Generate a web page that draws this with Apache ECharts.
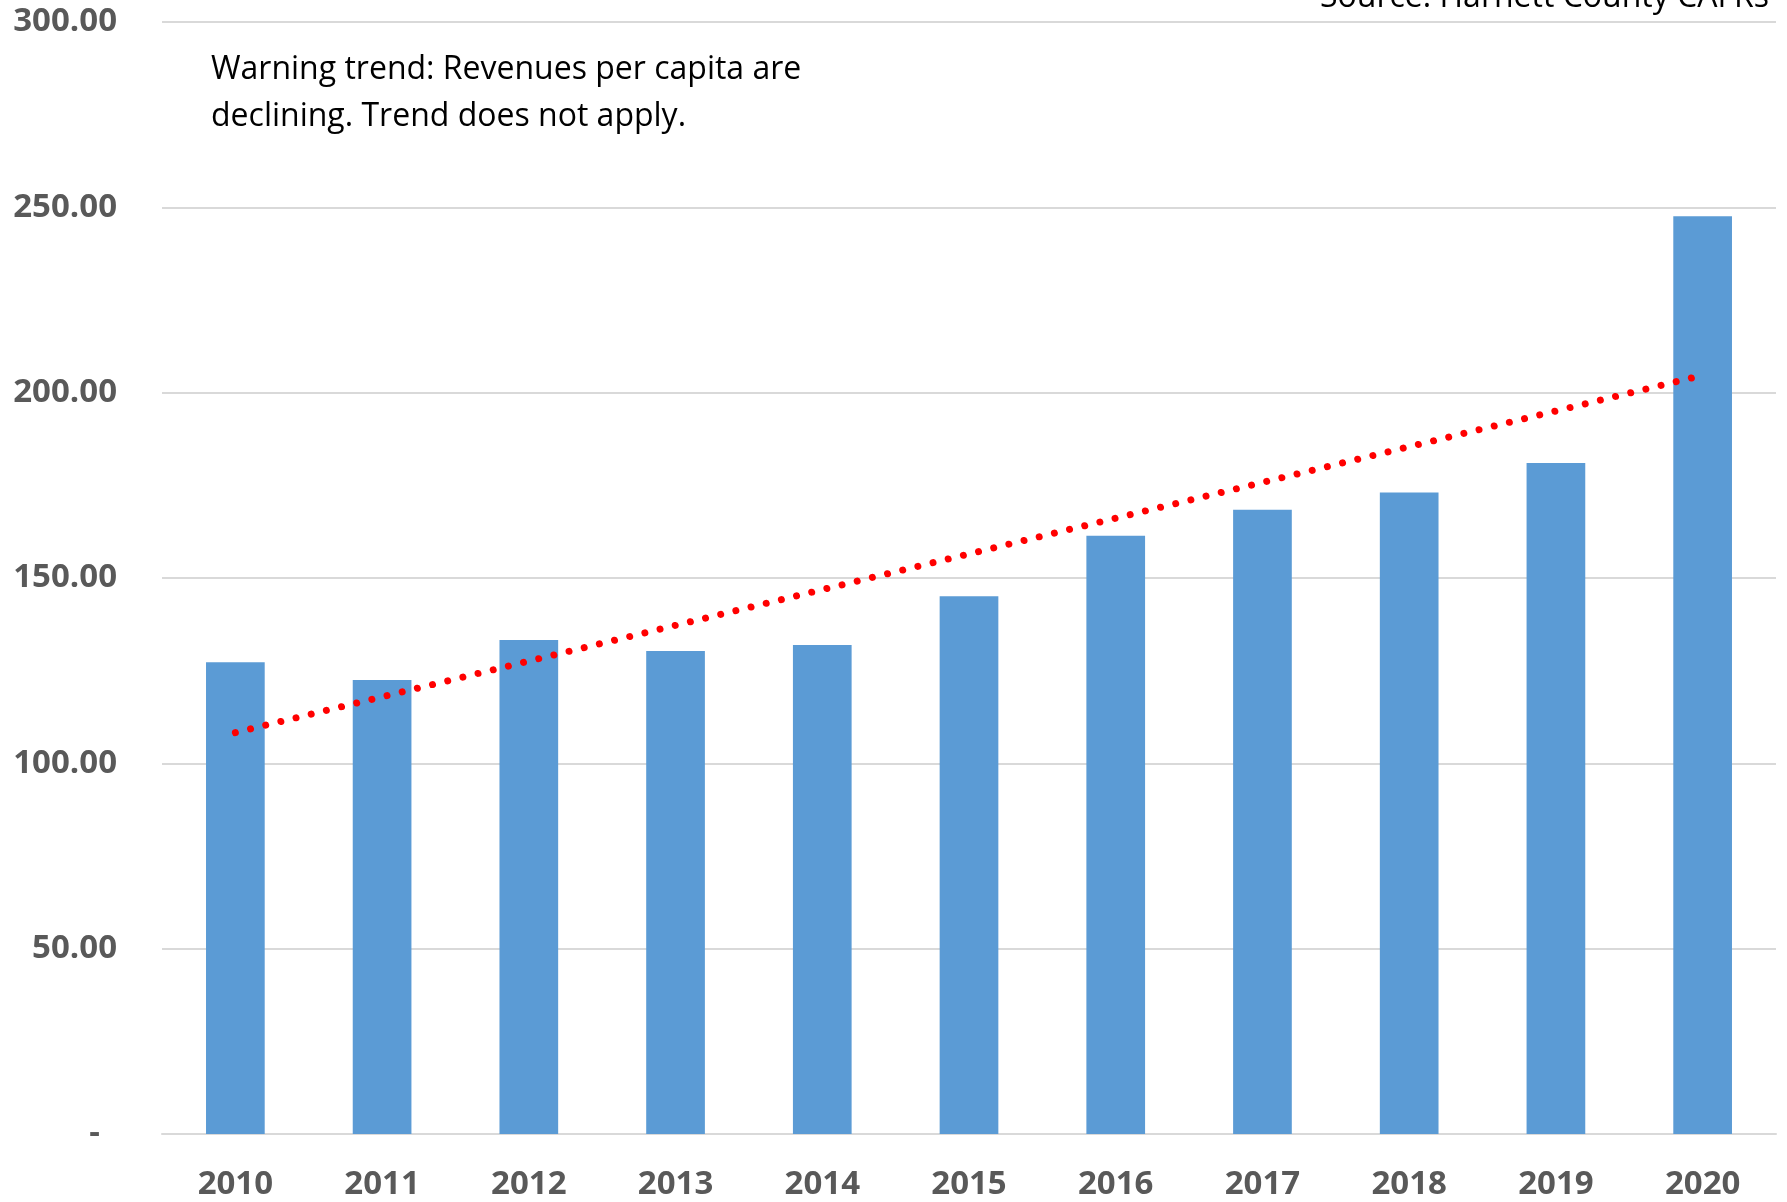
<!DOCTYPE html>
<html>
<head>
<meta charset="utf-8">
<script src="https://cdn.jsdelivr.net/npm/echarts@6/dist/echarts.min.js"></script>
<style>
  html, body { margin: 0; padding: 0; background: #fff; }
  #chart { width: 1787px; height: 1202px; }
</style>
</head>
<body>
<div id="chart"></div>
<script>
// values
const years = ['2010', '2011', '2012', '2013', '2014', '2015', '2016', '2017', '2018', '2019', '2020'];
const revenuePerCapita = [127.3, 122.5, 133.3, 130.3, 131.9, 145.1, 161.4, 168.4, 173.1, 181.0, 247.6];
// linear trendline end points (as drawn in the original)
const trendYears = ['2010', '2020'];
const trendValues = [108.3, 204.7];
const yTicks = [0, 50, 100, 150, 200, 250, 300];

let chartDom = document.getElementById('chart'),
    myChart = echarts.init(chartDom),
    option;

const labelColor = '#595959';
const gridColor = '#d9d9d9';

option = {
    animation: false,
    textStyle: { fontFamily: 'Open Sans' },
    grid: { left: 162, right: 11, top: 22, bottom: 68 },
    xAxis: {
        type: 'category',
        data: years,
        axisTick: { show: false },
        axisLine: { lineStyle: { color: gridColor, width: 2 } },
        axisLabel: {
            color: labelColor,
            fontSize: 33,
            fontWeight: 'bold',
            margin: 34
        }
    },
    yAxis: {
        type: 'value',
        min: yTicks[0],
        max: yTicks[yTicks.length - 1],
        interval: yTicks[1] - yTicks[0],
        axisLine: { show: false },
        axisTick: { show: false },
        splitLine: { lineStyle: { color: gridColor, width: 2 } },
        axisLabel: {
            color: labelColor,
            fontSize: 33,
            fontWeight: 'bold',
            margin: 45,
            formatter: v => v === 0 ? '-  ' : v.toFixed(2)
        }
    },
    series: [
        {
            type: 'bar',
            data: revenuePerCapita,
            barWidth: '40%',
            itemStyle: { color: '#5b9bd5' }
        },
        {
            type: 'line',
            data: trendYears.map((y, i) => [y, trendValues[i]]),
            symbol: 'none',
            z: 5,
            lineStyle: {
                color: '#ff0000',
                width: 7,
                type: [0.01, 15.6],
                cap: 'round'
            }
        }
    ],
    graphic: [
        {
            type: 'text',
            left: 211,
            top: 46,
            style: {
                text: 'Warning trend: Revenues per capita are\ndeclining. Trend does not apply.',
                font: '32px "Open Sans"',
                fill: '#000',
                lineHeight: 47
            }
        },
        {
            type: 'text',
            right: 18,
            top: -18,
            style: {
                text: 'Source: Harnett County CAFRs',
                font: '32px "Open Sans"',
                fill: '#000'
            }
        }
    ]
};

option && myChart.setOption(option);
</script>
</body>
</html>
